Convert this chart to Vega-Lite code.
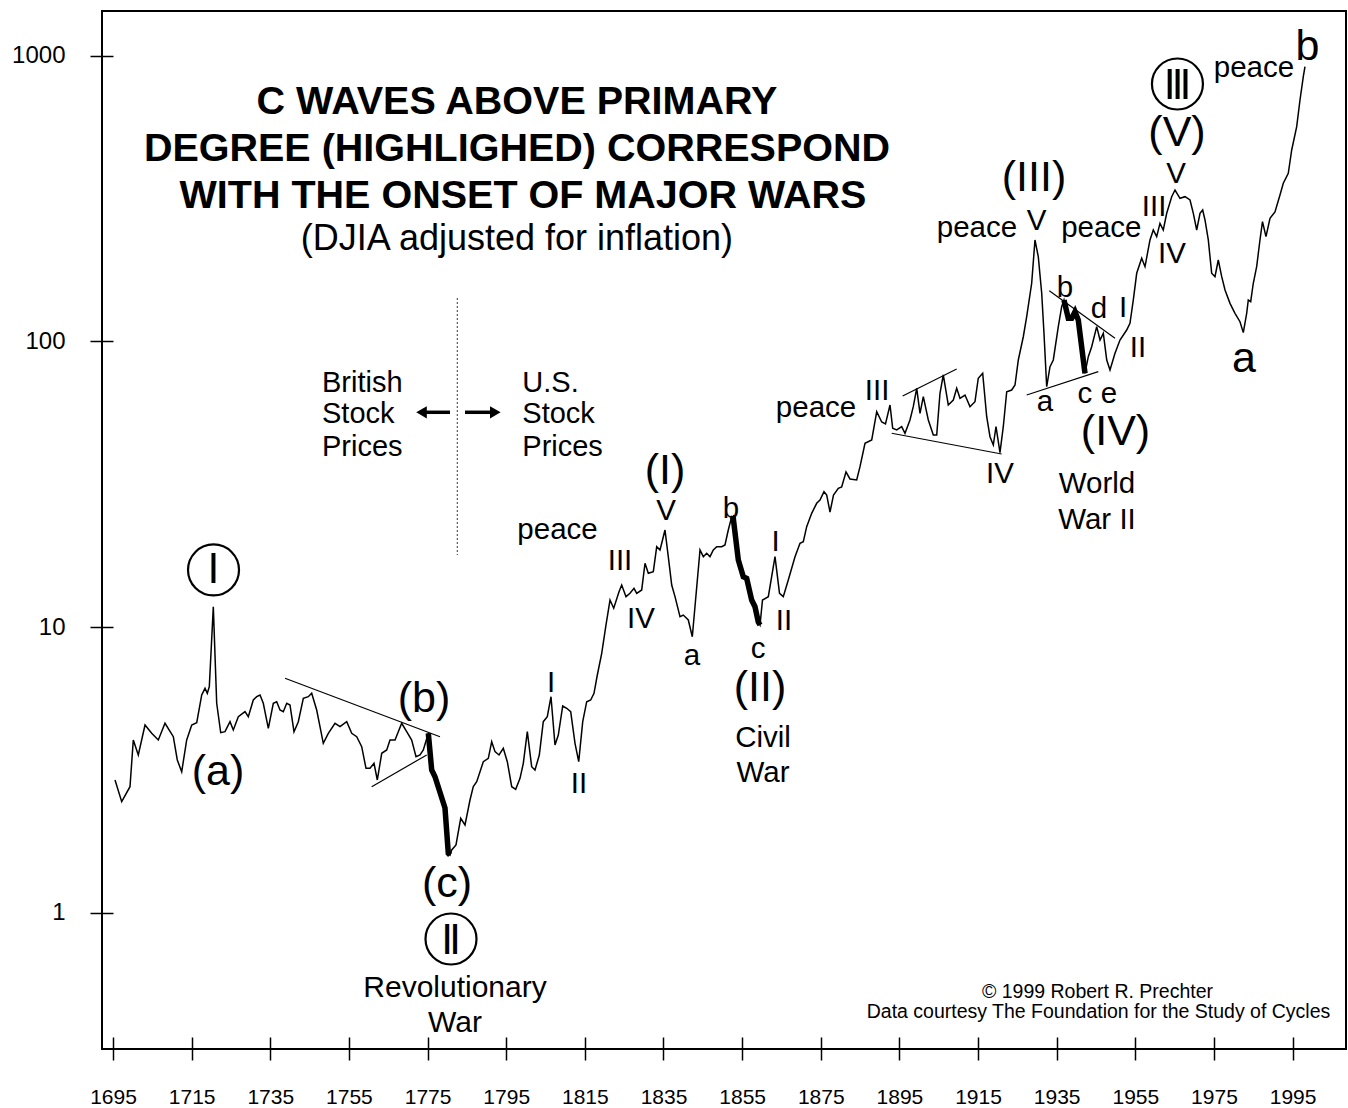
{
"$schema":"https://vega.github.io/schema/vega-lite/v6.json",
"width":1244,"height":1038,
"autosize":{"type":"none"},
"padding":{"left":102,"top":11,"right":2,"bottom":59},
"background":"white",
"config":{"view":{"stroke":"black","strokeWidth":2,"fill":"white"},"font":"Liberation Sans","text":{"font":"Liberation Sans","color":"black"}},
"datasets":{
"series":[
{"year":1695.51,"value":2.915},{"year":1697.21,"value":2.447},{"year":1699.32,"value":2.762},{"year":1700.16,"value":4.024},{"year":1701.43,"value":3.566},{"year":1703.14,"value":4.542},{"year":1704.84,"value":4.248},{"year":1706.52,"value":4.024},{"year":1708.22,"value":4.605},{"year":1710.34,"value":4.133},{"year":1711.35,"value":3.425},{"year":1712.47,"value":3.116},{"year":1713.74,"value":4.024},{"year":1715.02,"value":4.542},{"year":1716.29,"value":4.627},{"year":1717.56,"value":5.785},{"year":1718.40,"value":6.105},{"year":1718.98,"value":5.865},{"year":1719.49,"value":6.185},{"year":1720.51,"value":11.79},{"year":1721.37,"value":5.410},{"year":1722.39,"value":4.268},{"year":1723.48,"value":4.303},{"year":1724.76,"value":4.665},{"year":1725.59,"value":4.362},{"year":1726.87,"value":4.856},{"year":1728.57,"value":5.056},{"year":1729.41,"value":4.856},{"year":1730.68,"value":5.556},{"year":1731.55,"value":5.706},{"year":1732.39,"value":5.785},{"year":1733.22,"value":5.410},{"year":1734.50,"value":4.422},{"year":1735.77,"value":5.410},{"year":1736.63,"value":5.480},{"year":1737.47,"value":5.126},{"year":1738.31,"value":5.056},{"year":1739.18,"value":5.410},{"year":1740.01,"value":5.336},{"year":1741.03,"value":4.303},{"year":1742.13,"value":4.665},{"year":1743.40,"value":5.632},{"year":1744.67,"value":5.706},{"year":1745.53,"value":5.865},{"year":1746.80,"value":5.126},{"year":1747.64,"value":4.480},{"year":1748.48,"value":3.919},{"year":1749.76,"value":4.248},{"year":1751.46,"value":4.605},{"year":1752.73,"value":4.480},{"year":1754.44,"value":4.665},{"year":1755.71,"value":4.248},{"year":1756.98,"value":4.133},{"year":1758.25,"value":3.813},{"year":1759.34,"value":3.203},{"year":1760.36,"value":3.203},{"year":1761.38,"value":3.335},{"year":1762.22,"value":2.915},{"year":1763.34,"value":3.615},{"year":1764.61,"value":3.713},{"year":1765.45,"value":4.024},{"year":1766.72,"value":4.024},{"year":1768.42,"value":4.605},{"year":1769.69,"value":4.303},{"year":1770.96,"value":4.024},{"year":1772.06,"value":3.517},{"year":1773.08,"value":3.566},{"year":1773.92,"value":3.713},{"year":1775.19,"value":4.248},{"year":1776.05,"value":3.159},{"year":1776.89,"value":2.994},{"year":1779.43,"value":2.326},{"year":1780.27,"value":1.614},{"year":1780.71,"value":1.592},{"year":1781.14,"value":1.658},{"year":1782.23,"value":1.726},{"year":1783.43,"value":2.141},{"year":1784.52,"value":2.028},{"year":1785.79,"value":2.481},{"year":1786.63,"value":2.762},{"year":1787.50,"value":2.875},{"year":1789.18,"value":3.379},{"year":1790.45,"value":3.472},{"year":1791.31,"value":3.970},{"year":1792.15,"value":3.663},{"year":1793.17,"value":3.566},{"year":1794.26,"value":3.764},{"year":1795.28,"value":3.379},{"year":1796.40,"value":2.762},{"year":1797.41,"value":2.705},{"year":1798.51,"value":2.955},{"year":1799.35,"value":3.335},{"year":1800.37,"value":4.303},{"year":1801.48,"value":3.245},{"year":1802.32,"value":3.159},{"year":1803.42,"value":3.566},{"year":1804.43,"value":4.665},{"year":1805.45,"value":4.856},{"year":1806.39,"value":5.706},{"year":1807.41,"value":3.865},{"year":1808.25,"value":4.190},{"year":1809.37,"value":5.294},{"year":1810.39,"value":5.196},{"year":1811.40,"value":5.056},{"year":1812.50,"value":3.919},{"year":1813.44,"value":3.379},{"year":1814.46,"value":4.665},{"year":1815.47,"value":5.480},{"year":1816.49,"value":5.556},{"year":1817.33,"value":5.865},{"year":1818.17,"value":6.796},{"year":1819.29,"value":8.096},{"year":1820.31,"value":10.03},{"year":1821.40,"value":12.44},{"year":1822.34,"value":11.64},{"year":1823.69,"value":13.30},{"year":1824.37,"value":14.04},{"year":1825.47,"value":12.78},{"year":1826.48,"value":13.13},{"year":1827.50,"value":13.67},{"year":1828.19,"value":13.13},{"year":1829.46,"value":13.49},{"year":1830.30,"value":16.73},{"year":1831.14,"value":15.43},{"year":1832.41,"value":15.63},{"year":1833.28,"value":19.12},{"year":1834.11,"value":18.62},{"year":1834.55,"value":19.65},{"year":1835.38,"value":21.88},{"year":1836.22,"value":17.64},{"year":1837.09,"value":14.04},{"year":1837.93,"value":12.78},{"year":1839.20,"value":10.87},{"year":1840.04,"value":11.02},{"year":1841.31,"value":10.59},{"year":1842.33,"value":9.254},{"year":1844.29,"value":18.62},{"year":1845.13,"value":17.64},{"year":1845.99,"value":18.13},{"year":1846.83,"value":17.64},{"year":1847.67,"value":18.62},{"year":1848.54,"value":19.12},{"year":1849.81,"value":19.12},{"year":1850.64,"value":19.39},{"year":1851.48,"value":21.88},{"year":1852.35,"value":24.36},{"year":1852.75,"value":24.04},{"year":1854.03,"value":17.18},{"year":1855.30,"value":15.01},{"year":1856.16,"value":14.82},{"year":1857.43,"value":12.44},{"year":1858.27,"value":11.79},{"year":1859.11,"value":10.42},{"year":1859.55,"value":10.17},{"year":1860.18,"value":12.44},{"year":1861.66,"value":12.78},{"year":1863.36,"value":17.64},{"year":1864.51,"value":13.13},{"year":1865.47,"value":12.78},{"year":1866.74,"value":14.62},{"year":1868.45,"value":17.64},{"year":1869.72,"value":19.65},{"year":1870.56,"value":19.91},{"year":1871.42,"value":22.47},{"year":1872.69,"value":25.03},{"year":1873.96,"value":27.13},{"year":1874.80,"value":27.86},{"year":1875.82,"value":29.80},{"year":1876.51,"value":29.01},{"year":1877.35,"value":25.29},{"year":1878.24,"value":29.01},{"year":1879.46,"value":30.62},{"year":1880.32,"value":30.94},{"year":1881.42,"value":34.92},{"year":1882.43,"value":33.01},{"year":1884.14,"value":32.74},{"year":1884.98,"value":36.44},{"year":1886.25,"value":44.01},{"year":1887.96,"value":45.20},{"year":1889.23,"value":56.78},{"year":1890.50,"value":52.26},{"year":1891.46,"value":51.42},{"year":1892.61,"value":59.94},{"year":1893.29,"value":49.66},{"year":1894.31,"value":48.99},{"year":1895.58,"value":50.31},{"year":1896.42,"value":47.71},{"year":1897.69,"value":53.11},{"year":1898.53,"value":59.13},{"year":1899.40,"value":68.57},{"year":1900.24,"value":56.05},{"year":1901.08,"value":64.08},{"year":1902.35,"value":53.11},{"year":1903.62,"value":47.06},{"year":1904.49,"value":47.06},{"year":1905.32,"value":65.86},{"year":1906.16,"value":76.33},{"year":1907.43,"value":59.94},{"year":1908.71,"value":62.40},{"year":1909.57,"value":68.57},{"year":1910.41,"value":63.26},{"year":1911.68,"value":64.96},{"year":1912.95,"value":59.13},{"year":1914.22,"value":61.55},{"year":1915.06,"value":74.34},{"year":1916.18,"value":77.38},{"year":1917.20,"value":54.53},{"year":1918.04,"value":46.42},{"year":1918.88,"value":43.41},{"year":1919.57,"value":50.31},{"year":1920.58,"value":40.80},{"year":1921.42,"value":50.31},{"year":1922.29,"value":66.72},{"year":1923.56,"value":67.62},{"year":1924.40,"value":70.42},{"year":1925.24,"value":86.15},{"year":1926.51,"value":103.9},{"year":1927.37,"value":122.1},{"year":1928.64,"value":159.9},{"year":1929.48,"value":226.7},{"year":1930.32,"value":198.1},{"year":1931.19,"value":147.5},{"year":1931.77,"value":106.8},{"year":1932.46,"value":69.46},{"year":1933.30,"value":81.61},{"year":1934.14,"value":86.15},{"year":1935.41,"value":112.7},{"year":1936.27,"value":132.4},{"year":1936.86,"value":139.7},{"year":1937.95,"value":120.6},{"year":1938.82,"value":120.6},{"year":1939.66,"value":127.2},{"year":1940.49,"value":118.9},{"year":1942.20,"value":77.38},{"year":1943.04,"value":88.46},{"year":1943.90,"value":95.89},{"year":1945.18,"value":112.7},{"year":1946.02,"value":101.2},{"year":1946.86,"value":106.8},{"year":1947.73,"value":86.15},{"year":1948.56,"value":79.47},{"year":1949.83,"value":90.93},{"year":1951.10,"value":101.2},{"year":1952.80,"value":109.7},{"year":1953.64,"value":115.8},{"year":1954.48,"value":139.7},{"year":1955.35,"value":173.3},{"year":1956.62,"value":195.6},{"year":1957.46,"value":182.8},{"year":1958.73,"value":226.7},{"year":1959.57,"value":245.7},{"year":1960.43,"value":232.8},{"year":1961.27,"value":259.3},{"year":1962.11,"value":245.7},{"year":1962.98,"value":281.1},{"year":1964.25,"value":321.4},{"year":1965.09,"value":339.2},{"year":1966.36,"value":317.3},{"year":1967.64,"value":321.4},{"year":1968.91,"value":312.9},{"year":1969.75,"value":281.1},{"year":1970.61,"value":245.7},{"year":1971.45,"value":281.1},{"year":1972.13,"value":288.7},{"year":1972.72,"value":266.3},{"year":1973.56,"value":226.7},{"year":1974.42,"value":173.3},{"year":1975.26,"value":168.6},{"year":1976.10,"value":192.9},{"year":1976.97,"value":168.6},{"year":1977.81,"value":151.5},{"year":1979.08,"value":136.0},{"year":1980.35,"value":125.5},{"year":1981.62,"value":117.3},{"year":1982.46,"value":107.4},{"year":1983.32,"value":125.5},{"year":1983.73,"value":139.7},{"year":1984.34,"value":137.8},{"year":1985.00,"value":159.9},{"year":1985.86,"value":182.8},{"year":1986.70,"value":226.7},{"year":1987.34,"value":262.7},{"year":1988.23,"value":232.8},{"year":1989.25,"value":270.0},{"year":1990.52,"value":284.1},{"year":1991.79,"value":325.8},{"year":1992.63,"value":358.1},{"year":1993.90,"value":388.1},{"year":1994.77,"value":468.3},{"year":1996.04,"value":565.1},{"year":1996.88,"value":700.7},{"year":1997.72,"value":845.6},{"year":1998.15,"value":916.7}
],
"thick":[
{"seg":"rev","year":1775.19,"value":4.248},{"seg":"rev","year":1776.05,"value":3.159},{"seg":"rev","year":1776.89,"value":2.994},{"seg":"rev","year":1779.43,"value":2.326},{"seg":"rev","year":1780.27,"value":1.614},{"seg":"rev","year":1780.71,"value":1.592},
{"seg":"civil","year":1852.35,"value":24.36},{"seg":"civil","year":1852.75,"value":24.04},{"seg":"civil","year":1854.03,"value":17.18},{"seg":"civil","year":1855.30,"value":15.01},{"seg":"civil","year":1856.16,"value":14.82},{"seg":"civil","year":1857.43,"value":12.44},{"seg":"civil","year":1858.27,"value":11.79},{"seg":"civil","year":1859.11,"value":10.42},{"seg":"civil","year":1859.55,"value":10.17},
{"seg":"ww2","year":1936.86,"value":139.7},{"seg":"ww2","year":1937.95,"value":120.6},{"seg":"ww2","year":1938.82,"value":120.6},{"seg":"ww2","year":1939.66,"value":127.2},{"seg":"ww2","year":1940.49,"value":118.9},{"seg":"ww2","year":1942.20,"value":77.38}
],
"trend":[
{"seg":"t1","year":1738.74,"value":6.618},{"seg":"t1","year":1778.16,"value":4.133},
{"seg":"t2","year":1760.79,"value":2.762},{"seg":"t2","year":1774.78,"value":3.566},
{"seg":"t3","year":1893.04,"value":47.71},{"seg":"t3","year":1921.00,"value":40.37},
{"seg":"t4","year":1895.83,"value":64.44},{"seg":"t4","year":1909.57,"value":80.11},
{"seg":"t5","year":1927.37,"value":64.96},{"seg":"t5","year":1945.58,"value":78.39},
{"seg":"t6","year":1933.12,"value":150.6},{"seg":"t6","year":1949.83,"value":102.6}
],
"divider":[{"year":1782.56,"value":142.0,"value2":17.88}],
"arrows":[{"year":1774.6,"year2":1780.71,"value":56.51},{"year":1784.52,"year2":1791.39,"value":56.51}],
"heads":[{"dir":"left","year":1773.46,"value":56.51},{"dir":"right","year":1792.23,"value":56.51}],
"circles":[{"year":1720.56,"value":15.85},{"year":1780.96,"value":0.809},{"year":1965.71,"value":797.3}],
"labels":[
{"role":"title","text":"C WAVES ABOVE PRIMARY","year":1797.74,"value":626.0},
{"role":"title","text":"DEGREE (HIGHLIGHED) CORRESPOND","year":1797.74,"value":428.6},
{"role":"title","text":"WITH THE ONSET OF MAJOR WARS","year":1799.27,"value":293.4},
{"role":"subtitle","text":"(DJIA adjusted for inflation)","year":1797.74,"value":209.1},
{"role":"wave","text":"(a)","year":1721.70,"value":2.800},
{"role":"wave","text":"(b)","year":1774.09,"value":5.043},
{"role":"wave","text":"(c)","year":1779.94,"value":1.135},
{"role":"wave","text":"(I)","year":1835.38,"value":31.70},
{"role":"wave","text":"(II)","year":1859.55,"value":5.511},
{"role":"wave","text":"(III)","year":1929.23,"value":336.5},
{"role":"wave","text":"(IV)","year":1949.96,"value":43.41},
{"role":"wave","text":"(V)","year":1965.60,"value":483.6},
{"role":"wave","text":"a","year":1982.62,"value":78.39},
{"role":"wave","text":"b","year":1998.78,"value":967.4},
{"role":"circled","text":"I","year":1720.56,"value":14.27},
{"role":"circled","text":"Ⅱ","year":1780.96,"value":0.7166},
{"role":"circled","text":"Ⅲ","year":1965.71,"value":706.5},
{"role":"war","text":"Revolutionary","year":1781.98,"value":0.5067},
{"role":"war","text":"War","year":1781.98,"value":0.3823},
{"role":"small","text":"peace","year":1808.05,"value":20.35},
{"role":"small","text":"III","year":1823.94,"value":15.85},
{"role":"small","text":"IV","year":1829.28,"value":9.904},
{"role":"small","text":"V","year":1835.64,"value":23.71},
{"role":"small","text":"a","year":1842.25,"value":7.366},
{"role":"small","text":"b","year":1852.17,"value":24.10},
{"role":"small","text":"c","year":1859.04,"value":7.795},
{"role":"small","text":"Civil","year":1860.31,"value":3.804},
{"role":"small","text":"War","year":1860.31,"value":2.868},
{"role":"small","text":"I","year":1863.48,"value":18.47},
{"role":"small","text":"II","year":1865.65,"value":9.769},
{"role":"small","text":"I","year":1806.39,"value":5.927},
{"role":"small","text":"II","year":1813.51,"value":2.625},
{"role":"small","text":"peace","year":1873.79,"value":54.40},
{"role":"small","text":"III","year":1889.31,"value":62.40},
{"role":"small","text":"IV","year":1920.58,"value":31.96},
{"role":"small","text":"a","year":1932.03,"value":57.11},
{"role":"small","text":"peace","year":1914.73,"value":232.3},
{"role":"small","text":"V","year":1929.92,"value":245.7},
{"role":"small","text":"b","year":1937.11,"value":143.2},
{"role":"small","text":"c","year":1942.20,"value":60.91},
{"role":"small","text":"e","year":1948.30,"value":60.91},
{"role":"small","text":"d","year":1945.76,"value":120.9},
{"role":"small","text":"I","year":1951.87,"value":121.8},
{"role":"small","text":"II","year":1955.68,"value":88.25},
{"role":"small","text":"World","year":1945.25,"value":29.48},
{"role":"small","text":"War II","year":1945.25,"value":22.05},
{"role":"small","text":"peace","year":1946.35,"value":232.3},
{"role":"small","text":"III","year":1959.76,"value":275.0},
{"role":"small","text":"IV","year":1964.33,"value":188.3},
{"role":"small","text":"V","year":1965.35,"value":358.9},
{"role":"small","text":"peace","year":1985.18,"value":843.6},
{"role":"block","text":"British","year":1748.15,"value":66.72},
{"role":"block","text":"Stock","year":1748.15,"value":51.71},
{"role":"block","text":"Prices","year":1748.15,"value":39.82},
{"role":"block","text":"U.S.","year":1799.09,"value":66.72},
{"role":"block","text":"Stock","year":1799.09,"value":51.71},
{"role":"block","text":"Prices","year":1799.09,"value":39.82},
{"role":"credit","text":"© 1999 Robert R. Prechter","year":1945.38,"value":0.5026},
{"role":"credit","text":"Data courtesy The Foundation for the Study of Cycles","year":1945.63,"value":0.4279}
]
},
"encoding":{
"x":{"field":"year","type":"quantitative","title":null,"scale":{"domain":[1692.2,2008.58],"nice":false,"zero":false},
"axis":{"values":[1695,1715,1735,1755,1775,1795,1815,1835,1855,1875,1895,1915,1935,1955,1975,1995],"format":"d","domain":false,"grid":false,"offset":-12,"tickSize":23,"tickColor":"black","tickWidth":1.5,"labelFontSize":21,"labelColor":"black","labelPadding":26,"labelFont":"Liberation Sans","labelFlush":false,"labelOverlap":false}},
"y":{"field":"value","type":"quantitative","title":null,"scale":{"type":"log","domain":[0.33325,1436],"nice":false},
"axis":{"values":[1,10,100,1000],"format":"d","domain":false,"grid":false,"offset":-11,"tickSize":23,"tickColor":"black","tickWidth":1.5,"labelFontSize":24,"labelColor":"black","labelPadding":25,"labelFont":"Liberation Sans","labelFlush":false,"labelOverlap":false}}
},
"layer":[
{"data":{"name":"trend"},"mark":{"type":"line","color":"black","strokeWidth":1.2},"encoding":{"detail":{"field":"seg"}}},
{"data":{"name":"divider"},"mark":{"type":"rule","color":"#333333","strokeWidth":1,"strokeDash":[2,2]},"encoding":{"y2":{"field":"value2"}}},
{"data":{"name":"series"},"mark":{"type":"line","color":"black","strokeWidth":1.5}},
{"data":{"name":"thick"},"mark":{"type":"line","color":"black","strokeWidth":5.5},"encoding":{"detail":{"field":"seg"}}},
{"data":{"name":"arrows"},"mark":{"type":"rule","color":"black","strokeWidth":3.5},"encoding":{"x2":{"field":"year2"}}},
{"data":{"name":"heads"},"mark":{"type":"point","filled":true,"color":"black","opacity":1,"size":150},"encoding":{"shape":{"field":"dir","type":"nominal","scale":{"domain":["left","right"],"range":["triangle-left","triangle-right"]},"legend":null}}},
{"data":{"name":"circles"},"mark":{"type":"point","shape":"circle","size":2601,"filled":false,"stroke":"black","strokeWidth":2.2,"opacity":1}},
{"data":{"name":"labels"},"transform":[{"filter":"datum.role==='title'"}],"mark":{"type":"text","fontSize":39.5,"fontWeight":"bold","align":"center","baseline":"alphabetic"},"encoding":{"text":{"field":"text"}}},
{"data":{"name":"labels"},"transform":[{"filter":"datum.role==='subtitle'"}],"mark":{"type":"text","fontSize":36,"align":"center","baseline":"alphabetic"},"encoding":{"text":{"field":"text"}}},
{"data":{"name":"labels"},"transform":[{"filter":"datum.role==='wave'"}],"mark":{"type":"text","fontSize":43,"align":"center","baseline":"alphabetic"},"encoding":{"text":{"field":"text"}}},
{"data":{"name":"labels"},"transform":[{"filter":"datum.role==='circled'"}],"mark":{"type":"text","fontSize":40,"font":"DejaVu Sans","align":"center","baseline":"alphabetic"},"encoding":{"text":{"field":"text"}}},
{"data":{"name":"labels"},"transform":[{"filter":"datum.role==='war'"}],"mark":{"type":"text","fontSize":30,"align":"center","baseline":"alphabetic"},"encoding":{"text":{"field":"text"}}},
{"data":{"name":"labels"},"transform":[{"filter":"datum.role==='small'"}],"mark":{"type":"text","fontSize":29.5,"align":"center","baseline":"alphabetic"},"encoding":{"text":{"field":"text"}}},
{"data":{"name":"labels"},"transform":[{"filter":"datum.role==='block'"}],"mark":{"type":"text","fontSize":29,"align":"left","baseline":"alphabetic"},"encoding":{"text":{"field":"text"}}},
{"data":{"name":"labels"},"transform":[{"filter":"datum.role==='credit'"}],"mark":{"type":"text","fontSize":19.5,"align":"center","baseline":"alphabetic"},"encoding":{"text":{"field":"text"}}}
]
}
